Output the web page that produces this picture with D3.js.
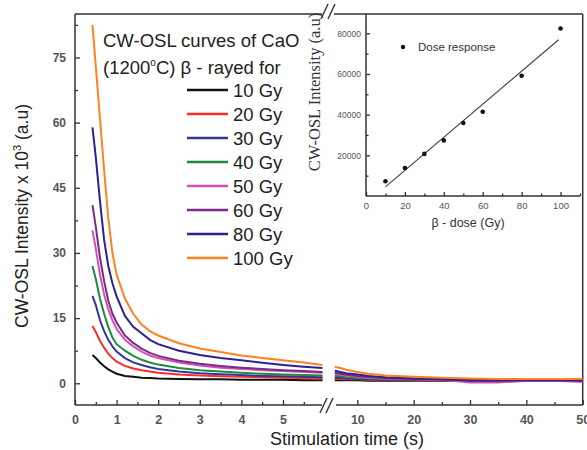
<!DOCTYPE html>
<html><head><meta charset="utf-8">
<script src="https://cdn.jsdelivr.net/npm/d3@7"></script>
<style>
body{margin:0;background:#fff}
svg{display:block;font-family:Arial,"Liberation Sans",sans-serif}
</style>
</head><body>
<svg id="c" width="587" height="450"></svg>
<script>
// ---------- data ----------
const times = [0.42,0.5,0.6,0.7,0.8,0.9,1.0,1.2,1.4,1.6,1.8,2.0,2.5,3.0,3.5,4.0,4.5,5.0,5.5,5.95,
               6.0,7,8,10,12,15,20,25,30,35,40,45,50];
const doses = ["10 Gy","20 Gy","30 Gy","40 Gy","50 Gy","60 Gy","80 Gy","100 Gy"];
const colors = ["#111111","#ff2b2b","#34349c","#1e8a3c","#d052b2","#7c2a88","#2f2090","#ff8122"];
const osl10  = [6.5,5.8,4.8,3.9,3.2,2.7,2.2,1.7,1.5,1.3,1.2,1.1,1.0,0.9,0.9,0.8,0.8,0.8,0.7,0.7,
                0.7,0.7,0.7,0.7,0.6,0.6,0.6,0.6,0.6,0.6,0.6,0.6,0.6];
const osl20  = [13.2,11.8,9.8,8.2,6.8,5.8,5.0,4.0,3.4,3.0,2.7,2.4,2.0,1.8,1.6,1.5,1.4,1.3,1.2,1.1,
                1.0,1.0,0.9,0.9,0.8,0.8,0.7,0.7,0.7,0.7,0.7,0.7,0.7];
const osl30  = [20.1,18,14.5,12,10,8.5,7.3,5.8,4.8,4.2,3.7,3.3,2.7,2.3,2.1,1.9,1.7,1.6,1.5,1.4,
                1.3,1.2,1.1,1.0,0.9,0.85,0.8,0.8,0.7,0.7,0.7,0.7,0.7];
const osl40  = [27,24,19.5,16,13,10.5,9,7.5,6.3,5.4,4.8,4.3,3.5,3.0,2.7,2.4,2.2,2.0,1.9,1.8,
                1.7,1.6,1.4,1.2,1.1,1.0,0.9,0.8,0.8,0.8,0.8,0.9,0.8];
const osl50  = [35.2,31,25,20.5,17,14.5,12.5,10,8.5,7.3,6.4,5.8,4.8,4.1,3.6,3.3,3.0,2.8,2.6,2.4,
                2.2,2.0,1.8,1.5,1.3,1.1,0.9,0.8,0.2,0.2,0.5,0.6,0.3];
const osl60  = [41,36,29,23.5,19,16,14,11,9.3,8,7,6.3,5.2,4.5,4,3.6,3.3,3.0,2.8,2.6,
                2.4,2.2,2.0,1.7,1.5,1.2,1.0,0.9,0.6,0.6,0.7,0.7,0.6];
const osl80  = [58.9,52,42,33,27,23,20,15.5,13,11.5,10,9,7.5,6.5,5.8,5.3,4.7,4.2,3.8,3.5,
                2.9,2.6,2.3,2.0,1.7,1.4,1.1,0.9,0.7,0.7,0.7,0.7,0.7];
const osl100 = [82.5,73,61,49,38,30,25,19.5,16,13.5,12,11,9.2,8,7.2,6.4,5.8,5.3,4.8,4.2,
                3.8,3.5,3.1,2.6,2.2,1.8,1.5,1.3,1.1,1.0,1.0,1.0,1.0];
const series = [osl10,osl20,osl30,osl40,osl50,osl60,osl80,osl100];

const yTicks = [0,15,30,45,60,75];
const yMinor = [7.5,22.5,37.5,52.5,67.5,82.5];
const xTicksLeft = [0,1,2,3,4,5];
const xMinorLeft = [0.5,1.5,2.5,3.5,4.5,5.5];
const xTicksRight = [10,20,30,40,50];
const xMinorRight = [15,25,35,45];

// inset data
const insetDose = [10,20,30,40,50,60,80,100];
const insetResp = [7250,13800,20700,27350,35900,41400,59100,82400];
const insetXTicks = [0,20,40,60,80,100];
const insetXMinor = [10,30,50,70,90,110];
const insetYTicks = [20000,40000,60000,80000];
const insetYMinor = [10000,30000,50000,70000];

// ---------- drawing ----------
const svg = d3.select("#c");
const axisCol = "#333";
const fmt = d3.format("d");
const xL = d3.scaleLinear().domain([0,6]).range([75,324.6]);
const xR = d3.scaleLinear().domain([6,50]).range([334.8,582.7]);
const y = d3.scaleLinear().domain([-5,85]).range([405,14]);

function styleAxis(g, fs, col, weight){
  g.select(".domain").remove();
  g.selectAll(".tick line").attr("stroke",axisCol).attr("stroke-width",1.3);
  g.selectAll(".tick text").attr("font-size",fs).attr("fill",col).attr("font-weight",weight||"bold")
   .attr("font-family","Arial, 'Liberation Sans', sans-serif");
}

// y axis
svg.append("g").attr("transform","translate(75,0)")
  .call(d3.axisLeft(y).tickValues(yTicks).tickFormat(fmt).tickSizeInner(-5).tickSizeOuter(0).tickPadding(9))
  .call(g=>styleAxis(g,12,"#555"));
svg.append("g").attr("transform","translate(75,0)")
  .call(d3.axisLeft(y).tickValues(yMinor).tickSizeInner(-3).tickSizeOuter(0).tickFormat(""))
  .call(g=>styleAxis(g,12,"#555"));

// x axis left and right segments
svg.append("g").attr("transform","translate(0,405)")
  .call(d3.axisBottom(xL).tickValues(xTicksLeft).tickFormat(fmt).tickSizeInner(-5).tickSizeOuter(0).tickPadding(10))
  .call(g=>styleAxis(g,12.5,"#555"));
svg.append("g").attr("transform","translate(0,405)")
  .call(d3.axisBottom(xL).tickValues(xMinorLeft).tickSizeInner(-3).tickSizeOuter(0).tickFormat(""))
  .call(g=>styleAxis(g,12,"#555"));
svg.append("g").attr("transform","translate(0,405)")
  .call(d3.axisBottom(xR).tickValues(xTicksRight).tickFormat(fmt).tickSizeInner(-5).tickSizeOuter(0).tickPadding(10))
  .call(g=>styleAxis(g,12.5,"#555"));
svg.append("g").attr("transform","translate(0,405)")
  .call(d3.axisBottom(xR).tickValues(xMinorRight).tickSizeInner(-3).tickSizeOuter(0).tickFormat(""))
  .call(g=>styleAxis(g,12,"#555"));

// frame with breaks
const frame = svg.append("g").attr("stroke",axisCol).attr("stroke-width",1.5).attr("fill","none");
frame.append("line").attr("x1",75).attr("x2",75).attr("y1",14).attr("y2",405);
frame.append("line").attr("x1",75).attr("x2",322).attr("y1",405).attr("y2",405);
frame.append("line").attr("x1",336).attr("x2",582.7).attr("y1",405).attr("y2",405);
frame.append("line").attr("x1",75).attr("x2",322).attr("y1",14).attr("y2",14);
frame.append("line").attr("x1",334).attr("x2",582.7).attr("y1",14).attr("y2",14);
frame.append("line").attr("x1",582.7).attr("x2",582.7).attr("y1",14).attr("y2",405);
// break marks
[[320,413,327,398],[326,413,333,398],[321,19,328,4],[328,19,335,4]].forEach(d=>{
  frame.append("line").attr("x1",d[0]).attr("y1",d[1]).attr("x2",d[2]).attr("y2",d[3]).attr("stroke-width",1.4);
});

// curves
const lineL = d3.line().x(d=>xL(d[0])).y(d=>y(d[1]));
const lineR = d3.line().x(d=>xR(d[0])).y(d=>y(d[1]));
series.forEach((s,i)=>{
  const pts = times.map((t,j)=>[t,s[j]]);
  const left = pts.filter(p=>p[0]<6);
  const right = pts.filter(p=>p[0]>=6);
  svg.append("path").attr("d",lineL(left)).attr("fill","none").attr("stroke",colors[i]).attr("stroke-width",2);
  svg.append("path").attr("d",lineR(right)).attr("fill","none").attr("stroke",colors[i]).attr("stroke-width",2);
});

// axis titles
svg.append("text").attr("x",347).attr("y",445).attr("text-anchor","middle")
  .attr("font-size",18).attr("fill","#222").text("Stimulation time (s)");
const yt = svg.append("text").attr("transform","translate(28,216) rotate(-90)")
  .attr("text-anchor","middle").attr("font-size",17.5).attr("fill","#222");
yt.append("tspan").text("CW-OSL Intensity x 10");
yt.append("tspan").attr("dy",-7).attr("font-size",11).text("3");
yt.append("tspan").attr("dy",7).text(" (a.u)");

// legend
const lg = svg.append("g").attr("fill","#222").attr("font-size",18.5);
lg.append("text").attr("x",103).attr("y",46.5).text("CW-OSL curves of CaO");
const l2 = lg.append("text").attr("x",103).attr("y",74);
l2.append("tspan").text("(1200");
l2.append("tspan").attr("dy",-8).attr("font-size",10).text("o");
l2.append("tspan").attr("dy",8).text("C) β - rayed for");
doses.forEach((d,i)=>{
  const cy = 90 + 24*i;
  lg.append("line").attr("x1",187).attr("x2",228).attr("y1",cy).attr("y2",cy)
    .attr("stroke",colors[i]).attr("stroke-width",2.5);
  lg.append("text").attr("x",233).attr("y",cy+6.5).text(d);
});

// ---------- inset ----------
const ix = d3.scaleLinear().domain([0,110]).range([366,580]);
const iy = d3.scaleLinear().domain([0,89500]).range([196,14]);
svg.append("rect").attr("x",366).attr("y",15).attr("width",216).attr("height",181).attr("fill","#fff");
svg.append("g").attr("transform","translate(0,196)")
  .call(d3.axisBottom(ix).tickValues(insetXTicks).tickFormat(fmt).tickSizeInner(-4).tickSizeOuter(0).tickPadding(6))
  .call(g=>styleAxis(g,9.5,"#555","normal"));
svg.append("g").attr("transform","translate(0,196)")
  .call(d3.axisBottom(ix).tickValues(insetXMinor).tickSizeInner(-2.5).tickSizeOuter(0).tickFormat(""))
  .call(g=>styleAxis(g,9,"#555","normal"));
svg.append("g").attr("transform","translate(366,0)")
  .call(d3.axisLeft(iy).tickValues(insetYTicks).tickSizeInner(-4).tickSizeOuter(0).tickPadding(5).tickFormat(fmt))
  .call(g=>styleAxis(g,8.5,"#555","normal"));
svg.append("g").attr("transform","translate(366,0)")
  .call(d3.axisLeft(iy).tickValues(insetYMinor).tickSizeInner(-2.5).tickSizeOuter(0).tickFormat(""))
  .call(g=>styleAxis(g,9,"#555","normal"));
const iframe = svg.append("g").attr("stroke",axisCol).attr("stroke-width",1.5);
iframe.append("line").attr("x1",366).attr("x2",366).attr("y1",14).attr("y2",196);
iframe.append("line").attr("x1",366).attr("x2",580).attr("y1",196).attr("y2",196);

// linear fit
const mx = d3.mean(insetDose), my = d3.mean(insetResp);
const sxy = d3.sum(insetDose.map((d,i)=>(d-mx)*(insetResp[i]-my)));
const sxx = d3.sum(insetDose.map(d=>(d-mx)*(d-mx)));
const slope = sxy/sxx, icpt = my - slope*mx;
const fitX = [10,99];
svg.append("line").attr("x1",ix(fitX[0])).attr("y1",iy(icpt+slope*fitX[0]))
  .attr("x2",ix(fitX[1])).attr("y2",iy(icpt+slope*fitX[1])).attr("stroke","#444").attr("stroke-width",1.2);
svg.append("g").selectAll("circle").data(insetDose).join("circle")
  .attr("cx",d=>ix(d)).attr("cy",(d,i)=>iy(insetResp[i])).attr("r",2.3).attr("fill","#111");

svg.append("circle").attr("cx",403).attr("cy",47).attr("r",2.2).attr("fill","#111");
svg.append("text").attr("x",418).attr("y",51).attr("font-size",11.5).attr("fill","#333").text("Dose response");
svg.append("text").attr("x",468).attr("y",227).attr("text-anchor","middle").attr("font-size",12.5)
  .attr("fill","#333").text("β - dose (Gy)");
svg.append("text").attr("transform","translate(320,92) rotate(-90)").attr("text-anchor","middle")
  .attr("font-family","'Liberation Serif','Times New Roman',serif").attr("font-size",16.5)
  .attr("fill","#333").text("CW-OSL Intensity (a.u)");
</script>
</body></html>
